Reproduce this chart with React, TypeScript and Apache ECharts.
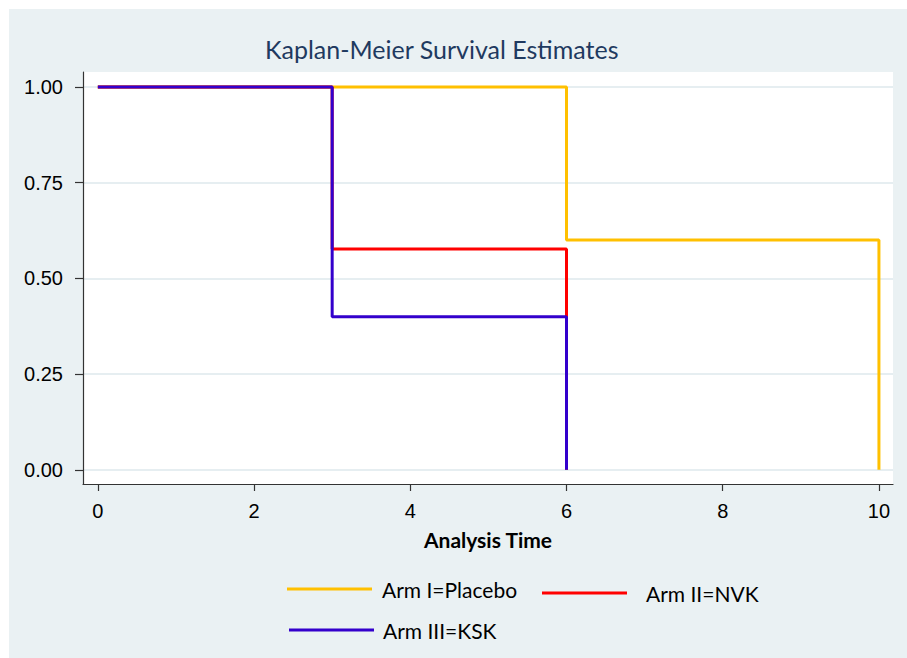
import React, { useEffect, useRef } from "react";
import * as echarts from "echarts";

const xTicks = [0, 2, 4, 6, 8, 10];
const yTicks = [0, 0.25, 0.5, 0.75, 1];
const yTickLabels = ["0.00", "0.25", "0.50", "0.75", "1.00"];

const placeboTimes = [0, 6, 10];
const placeboSurv = [1, 0.6, 0];
const nvkTimes = [0, 3, 6];
const nvkSurv = [1, 0.577, 0];
const kskTimes = [0, 3, 6];
const kskSurv = [1, 0.4, 0];

const seriesNames = ["Arm I=Placebo", "Arm II=NVK", "Arm III=KSK"];
const seriesColors = ["#FFC000", "#FF0000", "#3300CC"];

const pairs = (xs: number[], ys: number[]) => xs.map((x, i) => [x, ys[i]]);

export default function App() {
  const ref = useRef<HTMLDivElement>(null);
  useEffect(() => {
    if (!ref.current) return;
    const chart = echarts.init(ref.current, undefined, { renderer: "svg" });
    const calibri = "Lato, 'Open Sans', sans-serif";
    const arial = "'Liberation Sans', Arial, sans-serif";
    const dataSets = [
      pairs(placeboTimes, placeboSurv),
      pairs(nvkTimes, nvkSurv),
      pairs(kskTimes, kskSurv),
    ];
    const legendText = {
      fontFamily: calibri,
      fontSize: 21,
      color: "#000",
      lineHeight: 24,
    };
    chart.setOption({
      animation: false,
      backgroundColor: "#EAF1F3",
      title: {
        text: "Kaplan-Meier Survival Estimates",
        left: 256,
        top: 25,
        padding: 0,
        textStyle: {
          fontFamily: calibri,
          fontSize: 25,
          fontWeight: "normal",
          color: "#1F3A60",
          lineHeight: 30,
        },
      },
      grid: {
        left: 74,
        top: 63,
        width: 810,
        height: 412,
        show: true,
        backgroundColor: "#FFFFFF",
        borderWidth: 0,
        containLabel: false,
      },
      xAxis: {
        type: "value",
        min: -0.19,
        max: 10.18,
        name: "Analysis Time",
        nameLocation: "middle",
        nameGap: 45,
        nameTextStyle: {
          fontFamily: calibri,
          fontSize: 21,
          fontWeight: "bold",
          color: "#000",
        },
        axisLine: { show: true, onZero: false, lineStyle: { color: "#333", width: 1.2 } },
        axisTick: { show: true, length: 7, customValues: xTicks, lineStyle: { color: "#333", width: 1.2 } },
        axisLabel: {
          customValues: xTicks,
          margin: 17,
          fontFamily: arial,
          fontSize: 20,
          color: "#000",
        },
        splitLine: { show: false },
      },
      yAxis: {
        type: "value",
        min: -0.037,
        max: 1.039,
        axisLine: { show: true, onZero: false, lineStyle: { color: "#333", width: 1.2 } },
        axisTick: { show: true, length: 8, customValues: yTicks, lineStyle: { color: "#333", width: 1.2 } },
        axisLabel: {
          customValues: yTicks,
          margin: 20,
          fontFamily: arial,
          fontSize: 20,
          color: "#000",
          formatter: (v: number) => {
            const i = yTicks.indexOf(v);
            return i >= 0 ? yTickLabels[i] : "";
          },
        },
        splitLine: { show: true, lineStyle: { color: "#E6EEF1", width: 2 } },
      },
      legend: [
        {
          data: [seriesNames[0]],
          left: 278,
          top: 561,
          padding: 0,
          icon: "rect",
          itemWidth: 85,
          itemHeight: 3,
          textStyle: { ...legendText, padding: [0, 0, 14, 5] },
        },
        {
          data: [seriesNames[1]],
          left: 533,
          top: 565,
          padding: 0,
          icon: "rect",
          itemWidth: 85,
          itemHeight: 3,
          textStyle: { ...legendText, padding: [0, 0, 14, 14] },
        },
        {
          data: [seriesNames[2]],
          left: 280,
          top: 607,
          padding: 0,
          icon: "rect",
          itemWidth: 85,
          itemHeight: 3,
          textStyle: { ...legendText, padding: [4, 0, 0, 4] },
        },
      ],
      series: dataSets.map((d, i) => ({
        name: seriesNames[i],
        type: "line",
        step: "end",
        data: d,
        symbol: "none",
        color: seriesColors[i],
        lineStyle: { color: seriesColors[i], width: 3 },
        itemStyle: { color: seriesColors[i] },
        z: 2 + i,
      })),
    });
    return () => chart.dispose();
  }, []);
  return (
    <div
      ref={ref}
      style={{ position: "fixed", left: 9, top: 9, width: 898, height: 649 }}
    />
  );
}
